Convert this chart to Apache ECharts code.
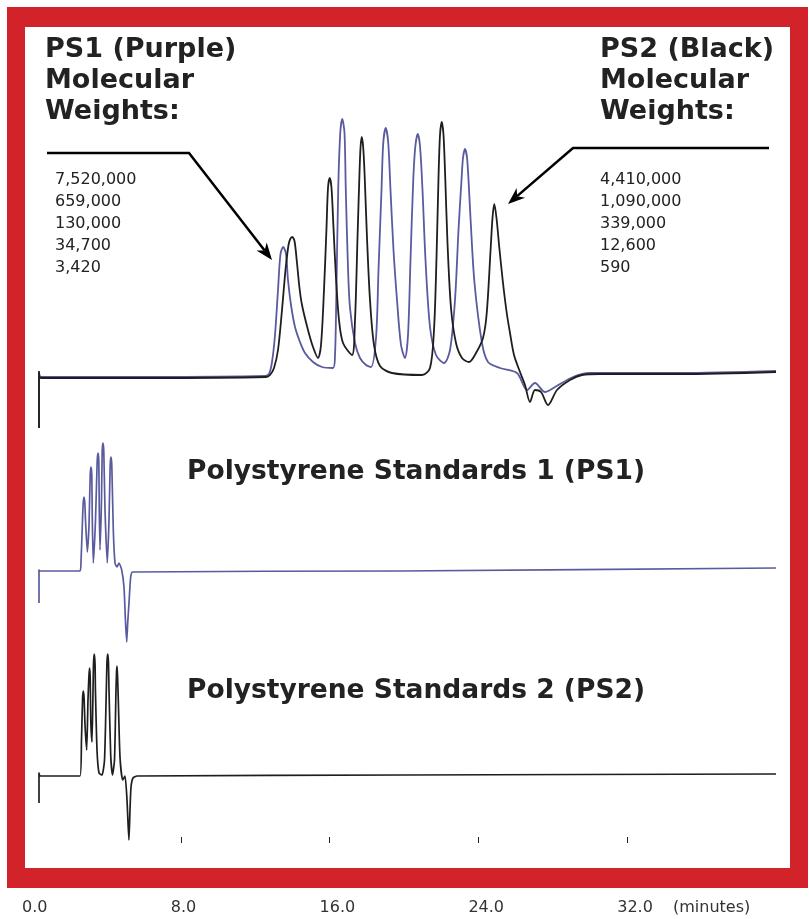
<!DOCTYPE html>
<html><head><meta charset="utf-8">
<script src="https://cdn.jsdelivr.net/npm/echarts@6/dist/echarts.min.js"></script>
<style>html,body{margin:0;padding:0;background:#fff}#c{width:809px;height:919px}</style>
</head><body><div id="c"></div><script>
// Top panel (enlarged view), time in minutes, signal in arbitrary units
const ps1Top = [[0.848,-50],[0.848,6],[0.864,1],[1.736,1],[2.656,2],[2.688,4],[2.712,16],[2.736,43],[2.76,88],[2.78,124],[2.802,131],[2.824,124],[2.84,98],[2.864,73],[2.896,51],[2.936,36],[2.976,25],[3.04,16],[3.112,11],[3.2,10],[3.216,23],[3.226,78],[3.242,190],[3.258,245],[3.274,259],[3.292,245],[3.302,190],[3.32,110],[3.336,70],[3.376,35],[3.416,20],[3.464,13],[3.504,11],[3.544,40],[3.564,108],[3.588,188],[3.602,235],[3.622,250],[3.642,235],[3.66,188],[3.684,128],[3.712,78],[3.744,33],[3.776,20],[3.8,43],[3.82,118],[3.842,198],[3.859,232],[3.878,244],[3.896,232],[3.916,188],[3.94,118],[3.976,51],[4.024,23],[4.088,15],[4.136,28],[4.176,78],[4.204,148],[4.228,198],[4.24,220],[4.256,229],[4.274,218],[4.3,160],[4.332,95],[4.392,35],[4.44,16],[4.536,10],[4.672,5],[4.752,-12],[4.816,-5],[4.896,-14],[4.976,-9],[5.12,1],[5.256,5],[5.976,5],[6.744,7]];
const ps2Top = [[0.848,-50],[0.848,6],[0.864,0],[1.736,0],[2.664,1],[2.696,3],[2.728,10],[2.76,28],[2.792,68],[2.82,108],[2.844,133],[2.858,139],[2.874,141],[2.892,137],[2.912,115],[2.932,90],[2.952,73],[3.0,48],[3.04,31],[3.08,20],[3.104,33],[3.128,88],[3.148,150],[3.16,190],[3.174,200],[3.188,190],[3.204,150],[3.224,100],[3.248,58],[3.28,35],[3.352,23],[3.376,58],[3.396,140],[3.412,205],[3.42,230],[3.43,241],[3.442,230],[3.454,200],[3.472,140],[3.496,78],[3.528,33],[3.576,12],[3.672,5],[3.912,3],[3.976,10],[4.008,48],[4.028,120],[4.044,200],[4.056,243],[4.07,256],[4.084,243],[4.098,200],[4.116,135],[4.144,70],[4.184,35],[4.232,20],[4.288,16],[4.344,25],[4.4,40],[4.43,65],[4.462,131],[4.476,160],[4.49,174],[4.508,160],[4.53,131],[4.56,95],[4.59,65],[4.616,45],[4.648,23],[4.696,6],[4.736,-7],[4.776,-24],[4.816,-12],[4.864,-14],[4.92,-27],[4.992,-12],[5.096,-2],[5.192,3],[5.336,4],[5.976,4],[6.744,6]];
// Full-run chromatograms (0-40 min)
const ps1Full = [[0.376,-32],[0.376,1],[0.43,0],[2.58,0],[2.634,9],[2.715,51],[2.753,68],[2.796,74],[2.839,68],[2.876,51],[2.973,19],[3.065,46],[3.129,96],[3.172,104],[3.215,96],[3.242,51],[3.296,8],[3.414,51],[3.505,110],[3.548,118],[3.591,110],[3.618,60],[3.656,21],[3.737,71],[3.774,120],[3.817,128],[3.86,120],[3.925,61],[4.048,8],[4.14,51],[4.204,106],[4.247,114],[4.29,106],[4.371,41],[4.462,8],[4.57,4],[4.677,8],[4.823,1],[4.946,-16],[5.016,-46],[5.091,-71],[5.145,-52],[5.215,-32],[5.306,-6],[5.414,-1],[19.78,0],[40,3]];
const ps2Full = [[0.376,-27],[0.376,3],[0.43,0],[2.58,0],[2.66,36],[2.72,78],[2.758,85],[2.8,78],[2.85,51],[2.94,26],[3.01,76],[3.06,100],[3.097,108],[3.13,98],[3.16,56],[3.226,34],[3.29,96],[3.31,114],[3.349,122],[3.39,112],[3.41,86],[3.495,26],[3.602,3],[3.763,1],[3.898,16],[3.995,86],[4.03,114],[4.07,122],[4.11,114],[4.14,86],[4.231,21],[4.328,1],[4.435,16],[4.516,86],[4.545,104],[4.57,110],[4.6,100],[4.64,76],[4.731,19],[4.876,-4],[5.0,0],[5.108,-24],[5.21,-64],[5.269,-34],[5.323,-11],[5.43,-2],[5.645,0],[20,1],[40,2]];
const tickValues = [8, 16, 24, 32];
const labelValues = [0, 8, 16, 24, 32];
const ps1Weights = ['7,520,000', '659,000', '130,000', '34,700', '3,420'];
const ps2Weights = ['4,410,000', '1,090,000', '339,000', '12,600', '590'];

const PURPLE = '#5a5b9e', BLACK = '#1e1e1e', RED = '#d2232a', TXT = '#222';
const chart = echarts.init(document.getElementById('c'), null, {renderer: 'canvas'});
const hidden = (gi, min, max) => ({type: 'value', gridIndex: gi, min, max, show: false, splitLine: {show: false}});
function arrowHead(tip, from, len, half, notch) {
  const dx = tip[0] - from[0], dy = tip[1] - from[1], L = Math.hypot(dx, dy);
  const ux = dx / L, uy = dy / L, px = -uy, py = ux;
  const bx = tip[0] - ux * len, by = tip[1] - uy * len;
  const nx = tip[0] - ux * notch, ny = tip[1] - uy * notch;
  return {base: [nx, ny], pts: [tip, [bx + px * half, by + py * half], [nx, ny], [bx - px * half, by - py * half]]};
}
const aL = arrowHead([272, 260], [189, 153], 17, 6.5, 12);
const aR = arrowHead([508, 204], [573, 148], 17, 6.5, 12);
const lineS = (d, color, xi, sm, w) => ({type: 'line', xAxisIndex: xi, yAxisIndex: xi, data: d, symbol: 'none', smooth: sm,
  lineStyle: {color, width: w, join: 'round'}, animation: false, silent: true});
chart.setOption({
  animation: false,
  grid: [
    {left: 32, width: 744, top: 100, height: 330},
    {left: 32, width: 744, top: 430, height: 220},
    {left: 32, width: 744, top: 640, height: 220},
    {left: 32, width: 744, top: 837, height: 6},
    {left: 22, width: 744, top: 895, height: 1}
  ],
  xAxis: [
    hidden(0, 0.792, 6.744), hidden(1, 0, 40), hidden(2, 0, 40),
    {type: 'value', gridIndex: 3, min: 0, max: 40, axisLine: {show: false}, splitLine: {show: false}, axisLabel: {show: false},
      axisTick: {show: true, inside: true, length: 6, customValues: tickValues, lineStyle: {color: '#222', width: 1}}},
    {type: 'value', gridIndex: 4, min: 0, max: 40, axisLine: {show: false}, splitLine: {show: false}, axisTick: {show: false},
      axisLabel: {show: true, customValues: labelValues, formatter: v => v.toFixed(1), align: 'left', margin: 4,
        fontSize: 16, color: '#333', fontFamily: 'DejaVu Sans'}}
  ],
  yAxis: [hidden(0, -52, 278), hidden(1, -79, 141), hidden(2, -84, 136), hidden(3, 0, 1), hidden(4, 0, 1)],
  series: [
    lineS(ps1Top, PURPLE, 0, 0.3, 1.8),
    lineS(ps2Top, BLACK, 0, 0.3, 1.8),
    lineS(ps1Full, PURPLE, 1, 0.2, 1.7),
    lineS(ps2Full, BLACK, 2, 0.2, 1.7)
  ],
  graphic: [
    {type: 'rect', z: -10, shape: {x: 7, y: 7, width: 801, height: 881}, style: {fill: RED}},
    {type: 'rect', z: -9, shape: {x: 25, y: 27, width: 765, height: 841}, style: {fill: '#fff'}},
    {type: 'text', style: {x: 45, y: 34, text: 'PS1 (Purple)\nMolecular\nWeights:', fill: TXT, font: 'bold 27px "DejaVu Sans"', lineHeight: 31, verticalAlign: 'top'}},
    {type: 'text', style: {x: 600, y: 34, text: 'PS2 (Black)\nMolecular\nWeights:', fill: TXT, font: 'bold 27px "DejaVu Sans"', lineHeight: 31, verticalAlign: 'top'}},
    {type: 'text', style: {x: 55, y: 169, text: ps1Weights.join('\n'), fill: TXT, font: '16px "DejaVu Sans"', lineHeight: 22, verticalAlign: 'top'}},
    {type: 'text', style: {x: 600, y: 169, text: ps2Weights.join('\n'), fill: TXT, font: '16px "DejaVu Sans"', lineHeight: 22, verticalAlign: 'top'}},
    {type: 'text', style: {x: 187, y: 472, text: 'Polystyrene Standards 1 (PS1)', fill: TXT, font: 'bold 26.5px "DejaVu Sans"', verticalAlign: 'middle'}},
    {type: 'text', style: {x: 187, y: 691, text: 'Polystyrene Standards 2 (PS2)', fill: TXT, font: 'bold 26.5px "DejaVu Sans"', verticalAlign: 'middle'}},
    {type: 'text', style: {x: 673, y: 908, text: '(minutes)', fill: '#333', font: '16px "DejaVu Sans"', verticalAlign: 'middle'}},
    {type: 'polyline', shape: {points: [[47, 153], [189, 153], aL.base]}, style: {stroke: '#000', lineWidth: 2.5, fill: null}},
    {type: 'polygon', shape: {points: aL.pts}, style: {fill: '#000'}},
    {type: 'polyline', shape: {points: [[769, 148], [573, 148], aR.base]}, style: {stroke: '#000', lineWidth: 2.5, fill: null}},
    {type: 'polygon', shape: {points: aR.pts}, style: {fill: '#000'}}
  ]
});
</script></body></html>
